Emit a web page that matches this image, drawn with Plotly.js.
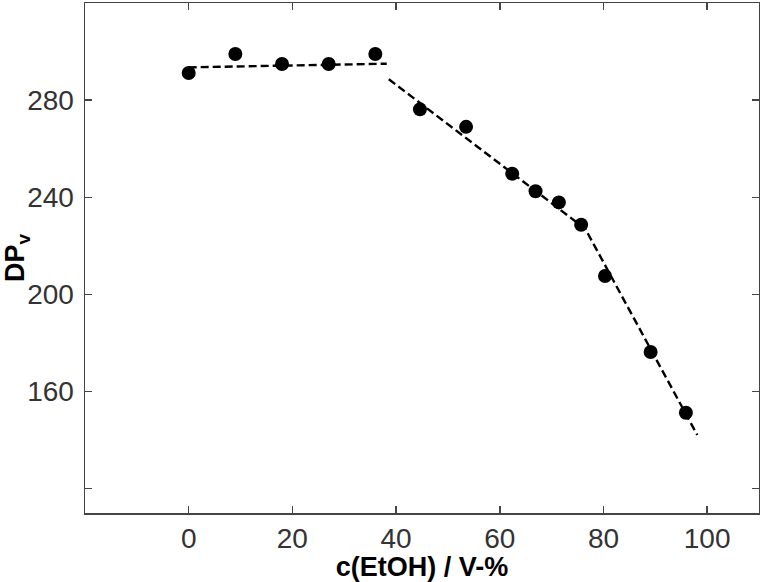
<!DOCTYPE html>
<html>
<head>
<meta charset="utf-8">
<script src="https://cdn.plot.ly/plotly-3.0.1.min.js"></script>
<style>html,body{margin:0;padding:0;background:#fff;}#chart{width:760px;height:582px;}</style>
</head>
<body>
<div id="chart"></div>
<script>
// Measured data: ethanol concentration (V-%) vs. DPv
const ethanol = [0, 9, 18, 27, 36, 44.6, 53.5, 62.4, 66.9, 71.4, 75.7, 80.3, 89.1, 95.9];
const dpv = [291.2, 299, 294.9, 294.9, 299, 276.2, 269.0, 249.7, 242.5, 237.9, 228.7, 207.6, 176.3, 151.3];

// Dashed guide lines (two pieces)
const fitX1 = [0, 38.2];
const fitY1 = [293.5, 295.0];
const fitX2 = [38.6, 76.5, 98.1];
const fitY2 = [288.6, 227.0, 142.1];

// Tick labels
const xTickVals = [0, 20, 40, 60, 80, 100];
const xTickText = ['0', '20', '40', '60', '80', '100'];
const yTickVals = [160, 200, 240, 280];
const yTickText = ['160', '200', '240', '280'];

const lineStyle = {color: '#000', width: 2.4, dash: '8px,4px'};

const traces = [
  {x: fitX1, y: fitY1, mode: 'lines', line: lineStyle, hoverinfo: 'skip'},
  {x: fitX2, y: fitY2, mode: 'lines', line: lineStyle, hoverinfo: 'skip'},
  {x: ethanol, y: dpv, mode: 'markers', marker: {color: '#000', size: 14}}
];

const tickFont = {family: 'Liberation Sans, Arial, sans-serif', size: 28, color: '#333'};
const titleFont = {family: 'Liberation Sans, Arial, sans-serif', size: 27, color: '#000', weight: 'bold'};

const axisCommon = {
  showline: true, linecolor: '#444', linewidth: 1.5, mirror: 'ticks',
  ticks: 'inside', ticklen: 7, tickwidth: 1.5, tickcolor: '#444',
  showgrid: false, zeroline: false, tickfont: tickFont
};

const layout = {
  width: 760, height: 582,
  margin: {l: 85, r: 1, t: 3, b: 69},
  paper_bgcolor: '#fff', plot_bgcolor: '#fff',
  showlegend: false,
  xaxis: Object.assign({}, axisCommon, {
    range: [-20, 110], tickmode: 'array', tickvals: xTickVals, ticktext: xTickText,
    title: {text: 'c(EtOH) / V-%', standoff: 2, font: titleFont}
  }),
  yaxis: Object.assign({}, axisCommon, {
    range: [110, 320], tickmode: 'array', tickvals: yTickVals, ticktext: yTickText,
    ticklabelstandoff: 4,
    minor: {tick0: 0, dtick: 40, ticks: 'inside', ticklen: 7, tickwidth: 1.5, tickcolor: '#444', showgrid: false},
    title: {text: '<b>DP<sub>v</sub></b>', standoff: 8, font: titleFont}
  })
};

Plotly.newPlot('chart', traces, layout, {displayModeBar: false, staticPlot: true});
</script>
</body>
</html>
